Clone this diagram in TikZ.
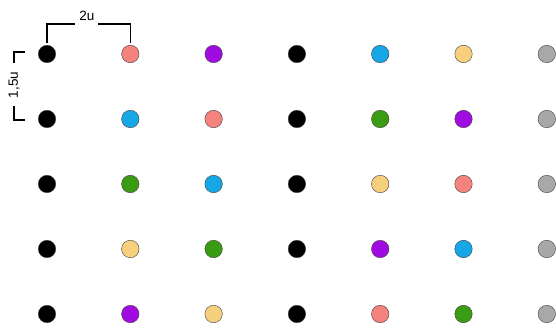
\documentclass[tikz,border=0pt]{standalone}
\usepackage{fontspec}
\setmainfont{Liberation Sans}
\usetikzlibrary{calc}
\definecolor{salmon}{HTML}{F4837E}
\definecolor{violet}{HTML}{A00BE2}
\definecolor{sky}{HTML}{17A6E6}
\definecolor{sand}{HTML}{F6D07C}
\definecolor{leaf}{HTML}{3A9C12}
\definecolor{silver}{HTML}{A8A8A8}

\begin{document}
\begin{tikzpicture}[x=1pt,y=-1pt,
  every node/.style={font=\fontsize{13.5}{15}\selectfont},
  dot/.style={circle,draw=black!75,line width=0.4pt,minimum size=17.5pt,inner sep=0pt},
  dim/.style={line width=1.2pt}
]
\useasboundingbox (0,0) rectangle (556,328);
% dots, row by row
\foreach \row [count=\r] in {{black,salmon,violet,black,sky,sand,silver},
                             {black,sky,salmon,black,leaf,violet,silver},
                             {black,leaf,sky,black,sand,salmon,silver},
                             {black,sand,leaf,black,violet,sky,silver},
                             {black,violet,sand,black,salmon,leaf,silver}}
  \foreach \c [count=\k] in \row
    \node[dot,fill=\c] (d\r-\k) at ({47+83.3*(\k-1)},{54+65*(\r-1)}) {};

% horizontal spacing
\node[inner sep=1pt] (hlbl) at (87,16) {2u};
\coordinate (hl) at (75,24);
\coordinate (hr) at (98,24);
\draw[dim] ($(d1-1.north)+(0,-2)$) |- (hl);
\draw[dim] (hr) -| ($(d1-2.north)+(0,-2)$);

% vertical spacing
\node[rotate=90,inner sep=1pt] (vlbl) at (14,85) {1,5u};
\coordinate (vt) at (14,63);
\coordinate (vb) at (14,106);
\draw[dim] ($(d1-1.west)+(-13,-2)$) -| (vt);
\draw[dim] ($(d2-1.west)+(-13,1)$) -| (vb);
\end{tikzpicture}
\end{document}
